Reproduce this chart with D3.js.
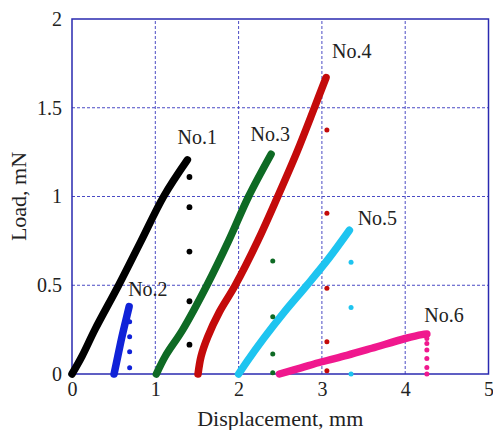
<!DOCTYPE html>
<html lang="en">
<head>
    <meta charset="UTF-8">
    <title>Load - Displacement</title>
    <script src="https://d3js.org/d3.v7.min.js"></script>
    <style>
        body {
            margin: 0;
            background-color: white;
            font-family: "Liberation Serif", "Times New Roman", serif;
        }
    </style>
</head>
<body>
    <div id="chart"></div>

    <script>
        // 读取的数据 (displacement mm, load mN)
        const xTicks = [0, 1, 2, 3, 4, 5];
        const yTicks = [0, 0.5, 1, 1.5, 2];
        const yTickLabels = ["0", "0.5", "1", "1.5", "2"];

        const seriesNames = ["No.1", "No.2", "No.3", "No.4", "No.5", "No.6"];
        const seriesColors = ["#000000", "#1022d8", "#0e6a24", "#c40a0a", "#1ec4f0", "#f0188e"];

        // 加载曲线
        const curve1 = [[0, 0], [0.12, 0.1], [0.275, 0.25], [0.56, 0.5], [0.83, 0.75], [1.1, 1.0], [1.385, 1.206]];
        const curve2 = [[0.505, 0], [0.55, 0.1], [0.595, 0.2], [0.64, 0.29], [0.686, 0.38]];
        const curve3 = [[1.013, 0], [1.12, 0.1], [1.33, 0.25], [1.62, 0.5], [1.88, 0.75], [2.12, 1.0], [2.39, 1.238]];
        const curve4 = [[1.513, 0], [1.55, 0.1], [1.63, 0.21], [1.77, 0.35], [1.96, 0.5], [2.23, 0.75], [2.47, 1.0], [2.70, 1.25], [2.91, 1.5], [3.05, 1.67]];
        const curve5 = [[2.0, 0], [2.1, 0.07], [2.3, 0.2], [2.55, 0.35], [2.82, 0.5], [3.08, 0.65], [3.33, 0.81]];
        const curve6 = [[2.49, 0], [2.75, 0.035], [3.0, 0.069], [3.3, 0.105], [3.6, 0.145], [4.0, 0.2], [4.2, 0.222], [4.26, 0.225]];

        // 破断后的散点
        const drop1 = [[1.41, 1.11], [1.41, 0.94], [1.41, 0.69], [1.41, 0.41], [1.41, 0.165]];
        const drop2 = [[0.692, 0.295], [0.692, 0.21], [0.692, 0.125], [0.692, 0.035]];
        const drop3 = [[2.41, 0.637], [2.41, 0.323], [2.41, 0.113], [2.41, 0.007]];
        const drop4 = [[3.06, 1.375], [3.06, 0.905], [3.06, 0.483], [3.06, 0.182], [3.06, 0.019]];
        const drop5 = [[3.35, 0.63], [3.35, 0.374], [3.35, 0.0]];
        const drop6 = [[4.26, 0.2], [4.26, 0.172], [4.26, 0.135], [4.26, 0.088], [4.26, 0.036], [4.26, 0.0]];

        // 标签位置 (数据坐标)
        const labelPos = [[1.266, 1.294], [0.674, 0.439], [2.144, 1.313], [3.122, 1.779], [3.429, 0.839], [4.228, 0.291]];

        const curves = [curve1, curve2, curve3, curve4, curve5, curve6];
        const drops = [drop1, drop2, drop3, drop4, drop5, drop6];

        const width = 493, height = 430;
        const margin = { top: 19, right: 4, bottom: 56, left: 72 };

        const svg = d3.select("#chart")
            .append("svg")
            .attr("width", width)
            .attr("height", height)
            .style("background-color", "white");

        const x = d3.scaleLinear().domain([0, 5]).range([margin.left, width - margin.right - 0.5]);
        const y = d3.scaleLinear().domain([0, 2]).range([height - margin.bottom, margin.top]);

        const gridColor = "#4a4ac4";
        const frameColor = "#2a2ab0";

        // 网格
        svg.append("g")
            .selectAll("line")
            .data(xTicks.slice(1, -1))
            .enter()
            .append("line")
            .attr("x1", d => x(d)).attr("x2", d => x(d))
            .attr("y1", y(0)).attr("y2", y(2))
            .attr("stroke", gridColor)
            .attr("stroke-width", 1)
            .attr("stroke-dasharray", "3,2");

        svg.append("g")
            .selectAll("line")
            .data(yTicks.slice(1, -1))
            .enter()
            .append("line")
            .attr("x1", x(0)).attr("x2", x(5))
            .attr("y1", d => y(d)).attr("y2", d => y(d))
            .attr("stroke", gridColor)
            .attr("stroke-width", 1)
            .attr("stroke-dasharray", "3,2");

        // 边框
        svg.append("rect")
            .attr("x", x(0)).attr("y", y(2))
            .attr("width", x(5) - x(0))
            .attr("height", y(0) - y(2))
            .attr("fill", "none")
            .attr("stroke", frameColor)
            .attr("stroke-width", 1.5);

        // 坐标轴刻度
        const xAxis = svg.append("g")
            .attr("transform", `translate(0,${y(0)})`)
            .call(d3.axisBottom(x).tickValues(xTicks).tickSize(0).tickPadding(6).tickFormat(d3.format("d")));
        const yAxis = svg.append("g")
            .attr("transform", `translate(${x(0)},0)`)
            .call(d3.axisLeft(y).tickValues(yTicks).tickSize(0).tickPadding(10).tickFormat((d, i) => yTickLabels[i]));

        [xAxis, yAxis].forEach(g => {
            g.select(".domain").remove();
            g.selectAll("text")
                .attr("fill", "#222")
                .style("font-family", "'Liberation Serif', 'Times New Roman', serif")
                .style("font-size", "20px");
        });
        xAxis.selectAll("text").attr("dy", "0.82em");

        // 轴标题
        svg.append("text")
            .attr("x", (x(0) + x(5)) / 2)
            .attr("y", 426)
            .attr("text-anchor", "middle")
            .attr("fill", "#222")
            .style("font-size", "22px")
            .text("Displacement, mm");

        svg.append("text")
            .attr("transform", `translate(26,${(y(0) + y(2)) / 2}) rotate(-90)`)
            .attr("text-anchor", "middle")
            .attr("fill", "#222")
            .style("font-size", "22px")
            .text("Load, mN");

        // 曲线
        const line = d3.line()
            .x(d => x(d[0]))
            .y(d => y(d[1]))
            .curve(d3.curveCatmullRom.alpha(0.5));

        curves.forEach((c, i) => {
            svg.append("path")
                .datum(c)
                .attr("d", line)
                .attr("fill", "none")
                .attr("stroke", seriesColors[i])
                .attr("stroke-width", 7.5)
                .attr("stroke-linecap", "round")
                .attr("stroke-linejoin", "round");
        });

        drops.forEach((p, i) => {
            svg.append("g")
                .selectAll("circle")
                .data(p)
                .enter()
                .append("circle")
                .attr("cx", d => x(d[0]))
                .attr("cy", d => y(d[1]))
                .attr("r", i === 0 ? 2.9 : 2.5)
                .attr("fill", seriesColors[i]);
        });

        // 系列标签
        svg.append("g")
            .selectAll("text")
            .data(seriesNames)
            .enter()
            .append("text")
            .attr("x", (d, i) => x(labelPos[i][0]))
            .attr("y", (d, i) => y(labelPos[i][1]))
            .attr("fill", "#222")
            .style("font-size", "20px")
            .text(d => d);
    </script>
</body>
</html>
